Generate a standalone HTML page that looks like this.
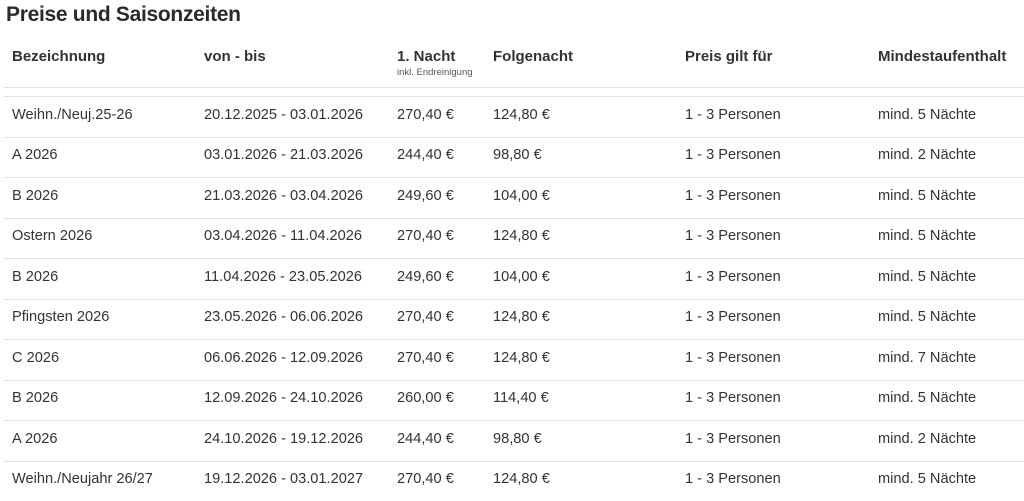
<!DOCTYPE html>
<html><head><meta charset="utf-8"><style>
body{margin:0;width:1024px;height:501px;background:#fff;font-family:"Liberation Sans",sans-serif;color:#333;position:relative;overflow:hidden}
.t{position:absolute;white-space:nowrap}
h1{position:absolute;left:6px;top:3px;margin:0;font-size:21px;font-weight:bold;color:#2a2a2a;letter-spacing:-0.3px}
.h{font-weight:bold;font-size:15px;top:48px}
.s{font-size:9.5px;top:67px;left:397px;color:#555}
.r{font-size:14.6px}
.line{position:absolute;left:4px;width:1020px;height:1px;background:#e2e2e2}
</style></head><body>
<h1>Preise und Saisonzeiten</h1>
<div class="t h" style="left:12px">Bezeichnung</div>
<div class="t h" style="left:204px">von - bis</div>
<div class="t h" style="left:397px">1. Nacht</div>
<div class="t s">inkl. Endreinigung</div>
<div class="t h" style="left:493px">Folgenacht</div>
<div class="t h" style="left:685px">Preis gilt für</div>
<div class="t h" style="left:878px">Mindestaufenthalt</div>
<div class="line" style="top:87px"></div>
<div class="line" style="top:96px"></div>
<div id="rows"></div>
<script>
var d=[["Weihn./Neuj.25-26","20.12.2025 - 03.01.2026","270,40 €","124,80 €","5"],
["A 2026","03.01.2026 - 21.03.2026","244,40 €","98,80 €","2"],
["B 2026","21.03.2026 - 03.04.2026","249,60 €","104,00 €","5"],
["Ostern 2026","03.04.2026 - 11.04.2026","270,40 €","124,80 €","5"],
["B 2026","11.04.2026 - 23.05.2026","249,60 €","104,00 €","5"],
["Pfingsten 2026","23.05.2026 - 06.06.2026","270,40 €","124,80 €","5"],
["C 2026","06.06.2026 - 12.09.2026","270,40 €","124,80 €","7"],
["B 2026","12.09.2026 - 24.10.2026","260,00 €","114,40 €","5"],
["A 2026","24.10.2026 - 19.12.2026","244,40 €","98,80 €","2"],
["Weihn./Neujahr 26/27","19.12.2026 - 03.01.2027","270,40 €","124,80 €","5"]];
var xs=[12,204,397,493,685,878],h="";
d.forEach(function(r,i){var y=106.5+i*40.5;
var v=[r[0],r[1],r[2],r[3],"1 - 3 Personen","mind. "+r[4]+" Nächte"];
v.forEach(function(s,j){h+='<div class="t r" style="left:'+xs[j]+'px;top:'+y+'px">'+s+'</div>';});
if(i<9)h+='<div class="line" style="top:'+Math.round(136.5+i*40.5)+'px"></div>';});
document.getElementById("rows").innerHTML=h;
</script>
</body></html>
